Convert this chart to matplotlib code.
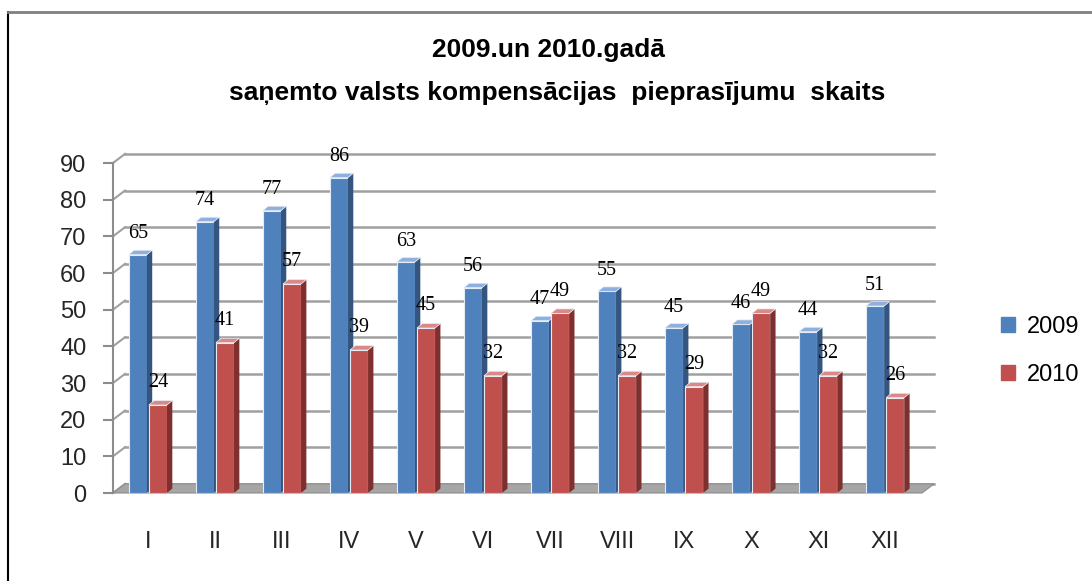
import numpy as np
import matplotlib.pyplot as plt
from matplotlib.patches import Polygon, Patch
from matplotlib.lines import Line2D

# Data
months = ['I', 'II', 'III', 'IV', 'V', 'VI', 'VII', 'VIII', 'IX', 'X', 'XI', 'XII']
y2009 = [65, 74, 77, 86, 63, 56, 47, 55, 45, 46, 44, 51]
y2010 = [24, 41, 57, 39, 45, 32, 49, 32, 29, 49, 32, 26]

blue, blue_side, blue_top = '#4F81BD', '#34557F', '#8DB0DE'
red, red_side, red_top = '#C0504D', '#7F302E', '#DB8987'
grid_col = '#A0A0A0'

W, H = 1092, 581
fig = plt.figure(figsize=(W / 100, H / 100), dpi=100)
ax = fig.add_axes([113 / W, 88 / H, (922 - 113) / W, 330 / H])
x0, x1 = -0.52, 11.55
ax.set_xlim(x0, x1)
ax.set_ylim(0, 90)

# 3D-ish depth offsets (data units)
bx, by = 0.18, 2.5   # back wall
dx, dy = 0.08, 1.2   # bar depth

# back wall gridlines and left wall diagonals
for v in range(0, 100, 10):
    ax.plot([x0 + bx, x1 + bx], [v + by, v + by], color=grid_col, lw=1.8,
            clip_on=False, zorder=1)
    ax.plot([x0, x0 + bx], [v, v + by], color=grid_col, lw=1.5,
            clip_on=False, zorder=1)

# floor
ax.add_patch(Polygon([(x0, 0), (x1, 0), (x1 + bx, by), (x0 + bx, by)],
                     closed=True, facecolor='#A6A6A6', edgecolor='#8C8C8C',
                     lw=0.8, clip_on=False, zorder=2))

w = 0.27
x = np.arange(len(months))


def bar3d(xc, v, face, side, top, z):
    xl, xr = xc - w / 2, xc + w / 2
    ax.bar(xc, v, width=w, color=face, edgecolor='#E6ECF5', lw=0.8, zorder=z)
    ax.add_patch(Polygon([(xr, 0), (xr + dx, dy), (xr + dx, v + dy), (xr, v)],
                         closed=True, facecolor=side, edgecolor='none',
                         clip_on=False, zorder=z))
    ax.add_patch(Polygon([(xl, v), (xr, v), (xr + dx, v + dy), (xl + dx, v + dy)],
                         closed=True, facecolor=top, edgecolor='#E6ECF5', lw=0.5,
                         clip_on=False, zorder=z))


for i in range(len(months)):
    bar3d(x[i] - 0.15, y2009[i], blue, blue_side, blue_top, 3 + 2 * i)
    bar3d(x[i] + 0.15, y2010[i], red, red_side, red_top, 4 + 2 * i)

for i in range(len(months)):
    ax.annotate(str(y2009[i]), (x[i] - 0.15, y2009[i]), xytext=(0, 15),
                textcoords='offset points', ha='center', va='center',
                family='Liberation Serif', fontsize=14.5, zorder=40,
                annotation_clip=False)
    ax.annotate(str(y2010[i]), (x[i] + 0.15, y2010[i]), xytext=(0, 16),
                textcoords='offset points', ha='center', va='center',
                family='Liberation Serif', fontsize=14.5, zorder=40,
                annotation_clip=False)

# axes
for s in ['top', 'right', 'bottom']:
    ax.spines[s].set_visible(False)
ax.spines['left'].set_color('#8C8C8C')
ax.spines['left'].set_linewidth(1.5)
ax.set_yticks(range(0, 100, 10))
ax.tick_params(axis='y', length=7, width=1.5, color='#8C8C8C', labelsize=17,
               pad=12)
ax.set_xticks(x)
ax.set_xticklabels(months)
ax.tick_params(axis='x', length=0, labelsize=17, pad=27)
for lbl in ax.get_xticklabels() + ax.get_yticklabels():
    lbl.set_family('Liberation Sans')
    lbl.set_color('#262626')

# title
fig.text(548 / W, 1 - 50 / H, '2009.un 2010.gadā', ha='center', va='center',
         fontsize=19, fontweight='bold', family='Liberation Sans')
fig.text(557 / W, 1 - 93 / H, 'saņemto valsts kompensācijas  pieprasījumu  skaits',
         ha='center', va='center', fontsize=19, fontweight='bold',
         family='Liberation Sans')

# legend
handles = [Patch(color=blue), Patch(color=red)]
leg = fig.legend(handles, ['2009', '2010'], loc='center left',
                 bbox_to_anchor=(1001 / W, 1 - 351 / H), frameon=False,
                 borderpad=0, borderaxespad=0,
                 handlelength=0.6, handleheight=0.6, handletextpad=0.5,
                 labelspacing=1.1, prop={'family': 'Liberation Sans', 'size': 17})

# outer frame
fig.add_artist(Line2D([8 / W, 8 / W], [0, 1 - 12 / H], color='black', lw=1.5))
fig.add_artist(Line2D([8 / W, 1], [1 - 12 / H, 1 - 12 / H], color='#7F7F7F', lw=2))

fig.savefig('out.png', dpi=100)
